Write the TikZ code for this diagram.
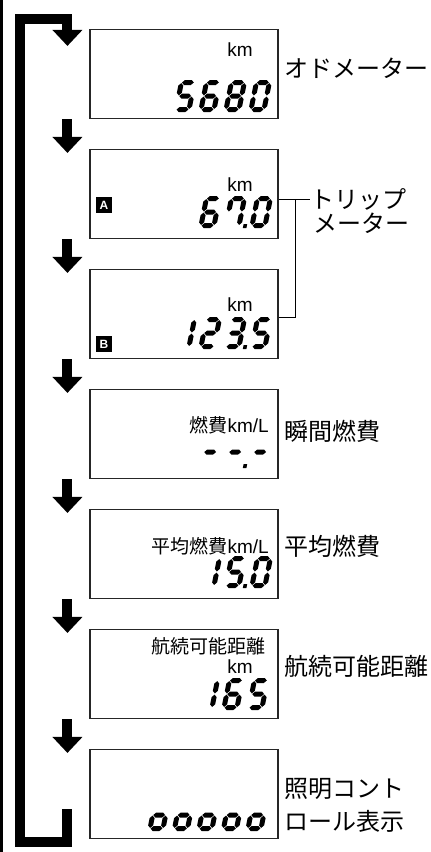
\documentclass[tikz,border=0pt]{standalone}
\usepackage{fontspec}
\setmainfont{Noto Sans CJK JP}
\newfontfamily\latin{Liberation Sans}
\usetikzlibrary{arrows.meta}

\newcommand{\hseg}[1]{\fill (3.1,#1) -- ++(2.5,2.5) -- ++(6.8,0) -- ++(2.5,-2.5) -- ++(-2.5,-2.5) -- ++(-6.8,0) -- cycle;}
\newcommand{\vseg}[2]{\fill (#1,#2+0.6) -- ++(2.5,2.5) -- ++(0,7.3) -- ++(-2.5,2.5) -- ++(-2.5,-2.5) -- ++(0,-7.3) -- cycle;}
\newcommand{\sega}{\hseg{29.5}}
\newcommand{\segb}{\vseg{15.5}{16}}
\newcommand{\segc}{\vseg{15.5}{2.5}}
\newcommand{\segd}{\hseg{2.5}}
\newcommand{\sege}{\vseg{2.5}{2.5}}
\newcommand{\segf}{\vseg{2.5}{16}}
\newcommand{\segg}{\hseg{16}}
\newcommand{\segp}{\fill (19.8,0) rectangle ++(3.6,4);}

\newcommand{\dgzero}{a,b,c,d,e,f}
\newcommand{\dgone}{b,c}
\newcommand{\dgtwo}{a,b,g,e,d}
\newcommand{\dgthree}{a,b,g,c,d}
\newcommand{\dgfive}{a,f,g,c,d}
\newcommand{\dgsix}{a,f,g,e,d,c}
\newcommand{\dgseven}{a,b,c,f}
\newcommand{\dgeight}{a,b,c,d,e,f,g}
\newcommand{\dglow}{c,d,e,g}
\newcommand{\dgdash}{g}
\newcommand{\dgpoint}{p}

\newcommand{\lcd}[3]{%
    \begin{scope}[shift={(#1,#2)}, x=1pt, y=1pt, xslant=0.2]
        \foreach \s in #3 {\csname seg\s\endcsname}
    \end{scope}}

\begin{document}
\begin{tikzpicture}[x=1pt, y=-1pt,
    disp/.style={draw=black!85, line width=1.1pt, minimum width=188pt, minimum height=89pt, inner sep=0pt},
    flow/.style={line width=10pt, -{Triangle[width=29pt,length=16pt]}},
    leader/.style={line width=0.8pt},
    lbl/.style={font=\fontsize{24}{26}\selectfont, inner sep=0pt, anchor=west},
    intxt/.style={font=\fontsize{19}{21}\selectfont, inner sep=0pt},
    badge/.style={fill=black, text=white, font=\latin\bfseries\fontsize{12}{12}\selectfont, minimum size=16pt, inner sep=0pt}]

    \useasboundingbox (0,0) rectangle (431,852);
    \draw[line width=2.5pt] (1.25,0) -- (1.25,852);

    \foreach \i in {1,...,7}
        \node[disp] (disp\i) at (184, {120*\i-46}) {};

    \foreach \i [evaluate=\i as \j using int(\i+1)] in {1,...,6}
        \draw[flow] ([xshift=-22pt]disp\i.south west) -- ([xshift=-22pt,yshift=-4pt]disp\j.north west);
    \draw[flow, line join=miter] ([xshift=-22pt,yshift=30pt]disp7.south west) -- ++(0,33)
        -| (20,19) -| ([xshift=-22pt,yshift=-17pt]disp1.north west);

    % labels
    \node[lbl] (odo) at (284,68) {オドメーター};
    \node[lbl] (tripa) at (310,199) {トリップ};
    \node[lbl] (tripb) at (313,223) {メーター};
    \node[lbl] (inst) at (284,431) {瞬間燃費};
    \node[lbl] (avg) at (284,546) {平均燃費};
    \node[lbl] (range) at (284,666) {航続可能距離};
    \node[lbl] (illuma) at (284,789) {照明コント};
    \node[lbl] (illumb) at (284,821) {ロール表示};

    \coordinate (tripjoin) at (295,199);
    \draw[leader] (disp2.east |- tripjoin) -- (tripa.west);
    \draw[leader] (disp3.east |- 0,317) -| (tripjoin);

    % display texts
    \node[intxt] (km1) at (240,50) {\latin km};
    \node[intxt] (km2) at (240,185) {\latin km};
    \node[intxt] (km3) at (240,305) {\latin km};
    \node[intxt] (km6) at (240,667) {\latin km};
    \node[intxt, anchor=east] (fuel) at (269,425) {燃費{\latin km/L}};
    \node[intxt, anchor=east] (avgfuel) at (269,546) {平均燃費{\latin km/L}};
    \node[intxt, anchor=east] (rangetxt) at (266,646) {航続可能距離};
    \node[badge] (tagA) at (104,205) {A};
    \node[badge] (tagB) at (104,344) {B};

    % lcd digits
    \lcd{173}{112}{\dgfive}
    \lcd{198}{112}{\dgsix}
    \lcd{223}{112}{\dgeight}
    \lcd{248}{112}{\dgzero}

    \lcd{198}{228}{\dgsix}
    \lcd{223}{228}{\dgseven}
    \lcd{223}{228}{\dgpoint}
    \lcd{249}{228}{\dgzero}

    \lcd{173}{349}{\dgone}
    \lcd{198}{349}{\dgtwo}
    \lcd{223}{349}{\dgthree}
    \lcd{223}{349}{\dgpoint}
    \lcd{249}{349}{\dgfive}

    \lcd{198}{468}{\dgdash}
    \lcd{223}{468}{\dgdash}
    \lcd{223}{468}{\dgpoint}
    \lcd{248}{468}{\dgdash}

    \lcd{198}{588}{\dgone}
    \lcd{223}{588}{\dgfive}
    \lcd{223}{588}{\dgpoint}
    \lcd{249}{588}{\dgzero}

    \lcd{196}{710}{\dgone}
    \lcd{221}{710}{\dgsix}
    \lcd{246}{710}{\dgfive}

    \foreach \x in {147,171.5,196,220.5,245} {
        \lcd{\x}{831}{\dglow}
    }
\end{tikzpicture}
\end{document}
